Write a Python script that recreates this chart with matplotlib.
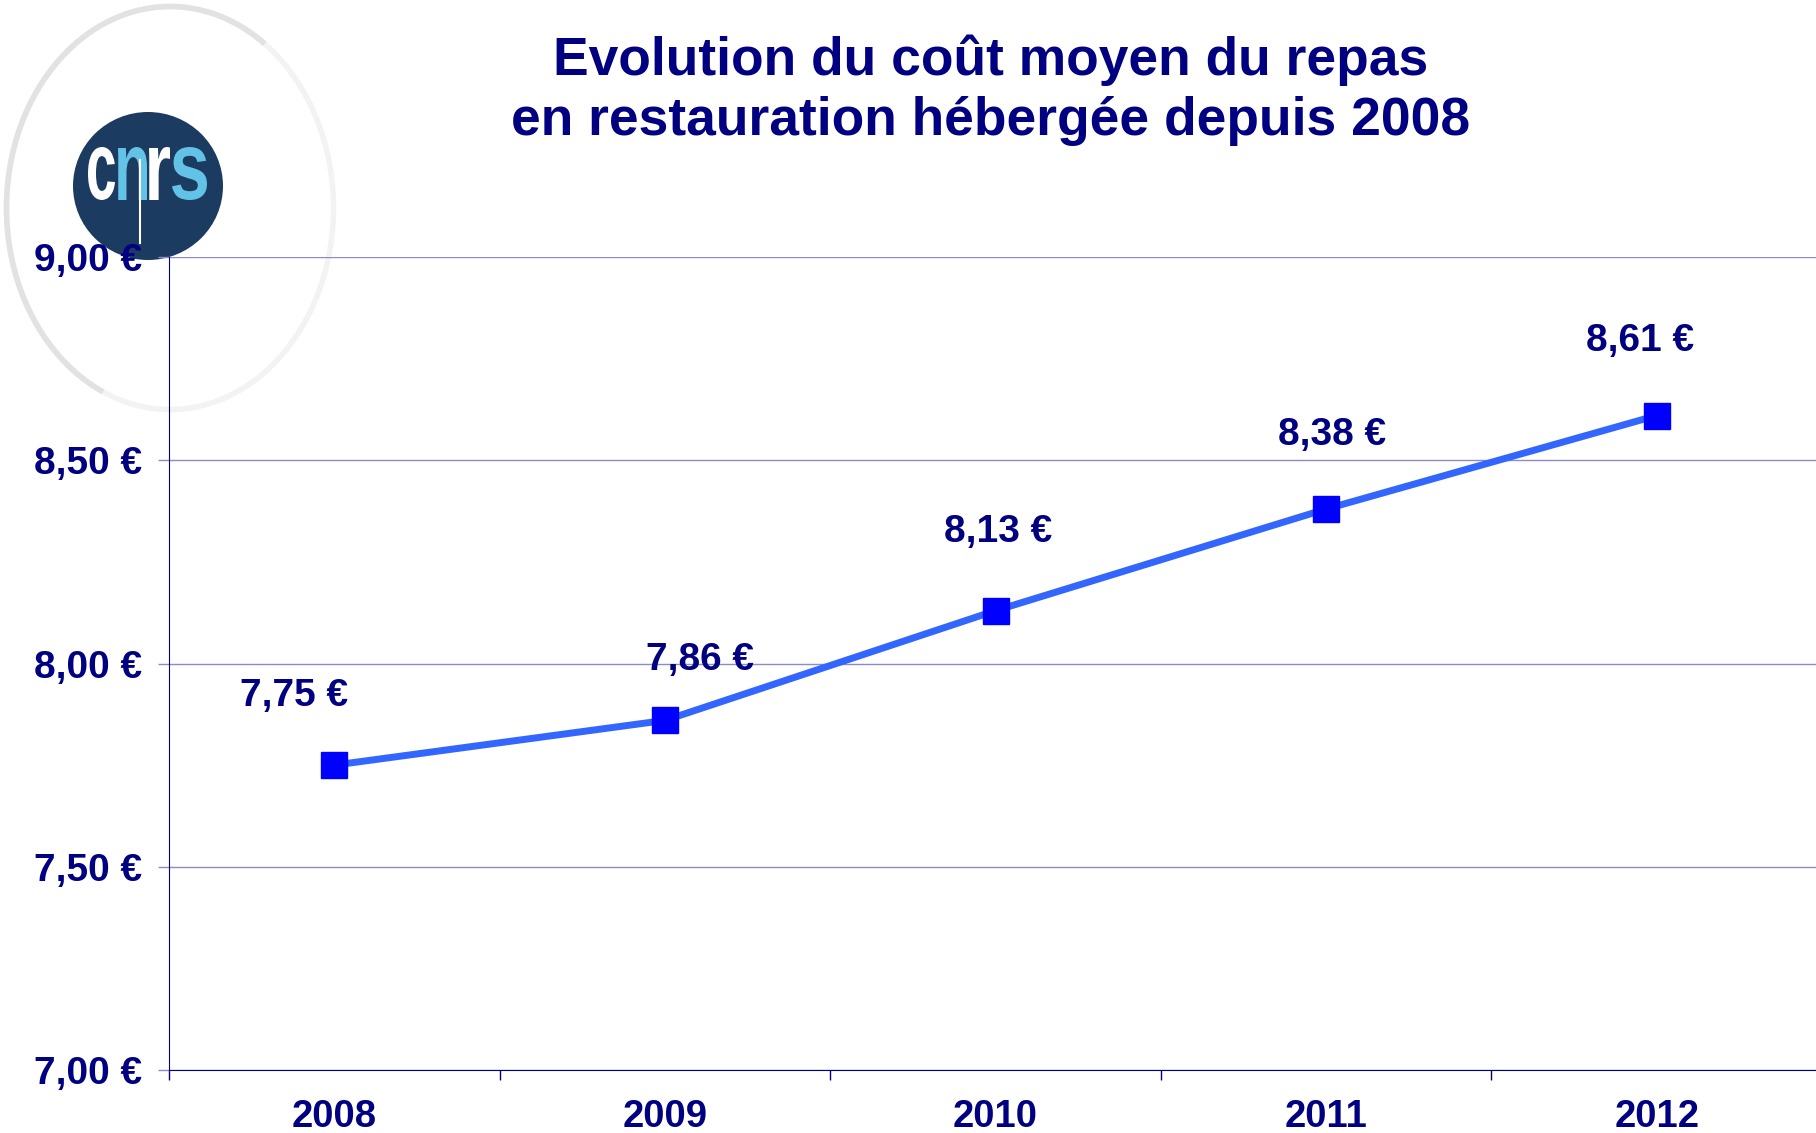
import matplotlib
matplotlib.use("Agg")
import matplotlib.pyplot as plt
from matplotlib.patches import Ellipse, Arc, PathPatch
from matplotlib.textpath import TextPath
from matplotlib.font_manager import FontProperties
from matplotlib.transforms import Affine2D

# Data
years = ["2008", "2009", "2010", "2011", "2012"]
costs = [7.75, 7.86, 8.13, 8.38, 8.61]
y_ticks = [7.0, 7.5, 8.0, 8.5, 9.0]

# label nudges (pixels) relative to each marker
label_dx = [-40, 35, 3, 6, -17]
label_dy = [69, 60, 79, 74, 75]

navy = "#000080"
grid_col = "#8c8cc8"

def euro(v):
    return f"{v:.2f}".replace(".", ",") + " €"

plt.rcParams['font.family'] = ['Liberation Sans', 'DejaVu Sans']

W, H = 1816, 1133
fig = plt.figure(figsize=(W / 100, H / 100), dpi=100)

# background layer in pixel coordinates for the logo
bg = fig.add_axes([0, 0, 1, 1], zorder=0)
bg.set_xlim(0, W)
bg.set_ylim(H, 0)
bg.axis("off")
bg.add_patch(Ellipse((170, 208), 327, 403, fill=False, ec="#f3f3f3", lw=4))
bg.add_patch(Arc((170, 208), 327, 403, theta1=110, theta2=300, ec="#e2e2e2", lw=4))
bg.add_patch(Ellipse((148, 186), 150, 148, fc="#1c3b60", ec="none"))

def letter(ch, x0, x1, y0, y1, color):
    tp = TextPath((0, 0), ch, size=1,
                  prop=FontProperties(family="Liberation Sans", weight="bold"))
    ext = tp.get_extents()
    sx = (x1 - x0) / ext.width
    sy = (y1 - y0) / ext.height
    tr = Affine2D().translate(-ext.x0, -ext.y1).scale(sx, -sy).translate(x0, y0)
    bg.add_patch(PathPatch(tr.transform_path(tp), fc=color, ec="none"))

letter("c", 88, 115, 147, 200, "white")
letter("n", 118, 147, 147, 200, "#62c3e6")
letter("r", 149, 170, 147, 200, "white")
letter("s", 172, 207, 147, 200, "#62c3e6")
bg.plot([140, 140], [160, 243], color="white", lw=1.5)

# main chart
ax = fig.add_axes([169 / W, 1 - 1070 / H, (1822 - 169) / W, (1070 - 257) / H], zorder=1)
ax.set_facecolor("none")
x = list(range(len(years)))
ax.plot(x, costs, color="#3366ff", lw=5, marker="s", markersize=18.5,
        markerfacecolor="#0000ff", markeredgecolor="#0000ff", zorder=3)

for i, v in enumerate(costs):
    ax.annotate(euro(v), (x[i], v), xytext=(label_dx[i], label_dy[i]),
                textcoords="offset pixels", ha="center", va="center",
                fontsize=28, fontweight="bold", color=navy)

ax.set_xlim(-0.5, len(years) - 0.5)
ax.set_ylim(7.0, 9.0)
ax.set_yticks(y_ticks)
ax.set_yticklabels([euro(v) for v in y_ticks], fontsize=28, fontweight="bold", color=navy)
ax.set_xticks(x)
ax.set_xticklabels(years, fontsize=27.5, fontweight="bold", color=navy)
ax.set_xticks([i - 0.5 for i in range(len(years) + 1)], minor=True)
ax.tick_params(axis="x", which="major", length=0, pad=21)
ax.tick_params(axis="x", which="minor", length=7, color=navy, width=1, direction="out")
ax.tick_params(axis="y", length=8, color=grid_col, width=1, pad=11)
ax.yaxis.grid(True, color=grid_col, lw=1)
ax.set_axisbelow(True)
for s in ["top", "right"]:
    ax.spines[s].set_visible(False)
ax.spines["left"].set_color(navy)
ax.spines["bottom"].set_color(navy)

fig.text(991 / W, 1 - 60 / H, "Evolution du coût moyen du repas", ha="center", va="center",
         fontsize=38.4, fontweight="bold", color=navy)
fig.text(991 / W, 1 - 121 / H, "en restauration hébergée depuis 2008", ha="center", va="center",
         fontsize=38.4, fontweight="bold", color=navy)

fig.savefig("out.png", dpi=100)
